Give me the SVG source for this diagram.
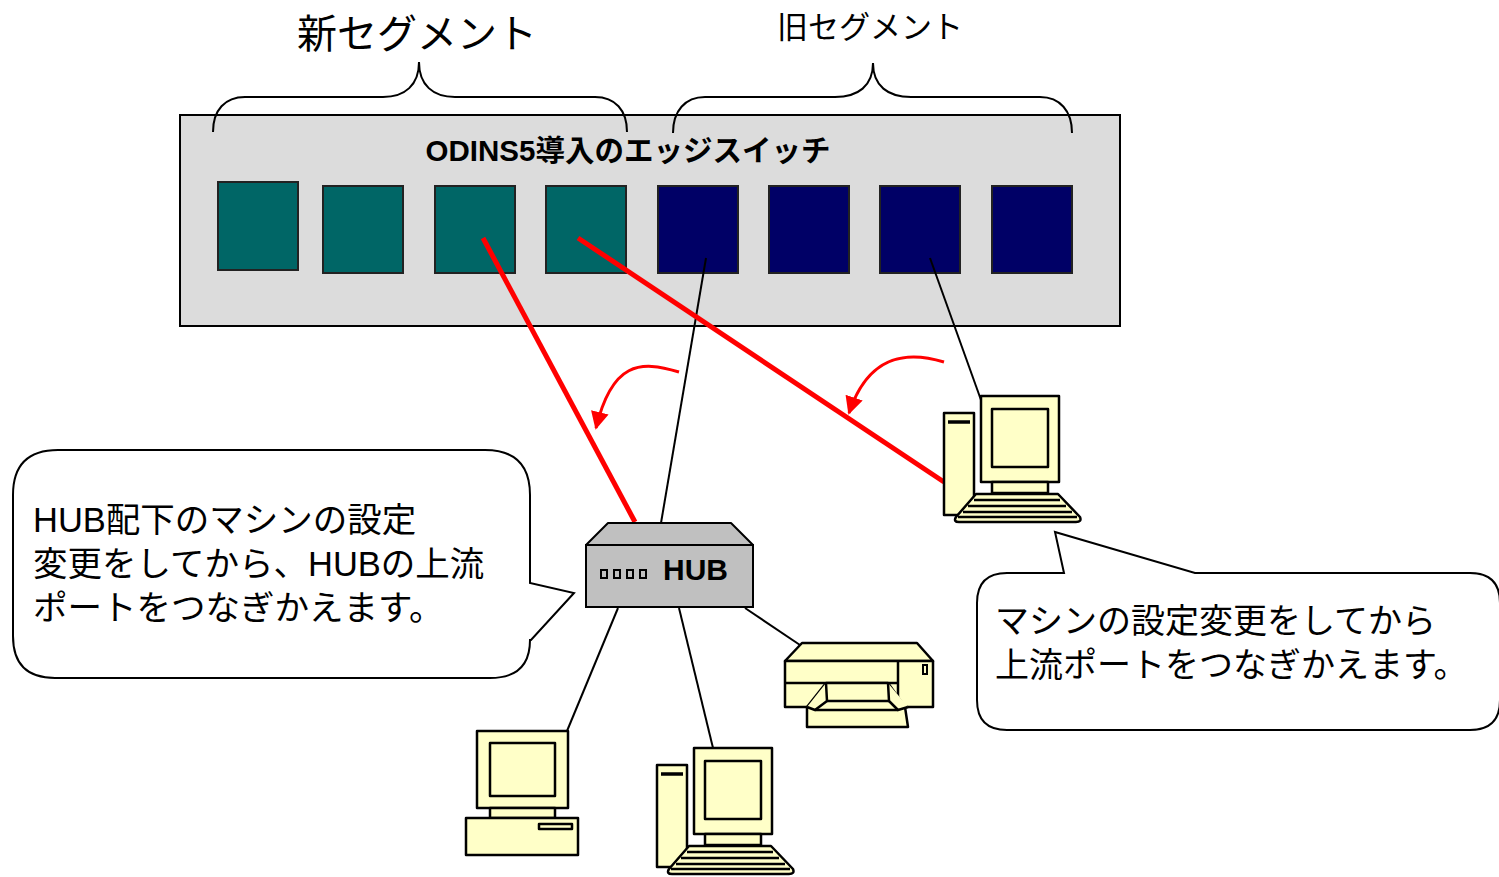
<svg xmlns="http://www.w3.org/2000/svg" width="1499" height="877" viewBox="0 0 1499 877">
  <style>
    .txt { font-family: "Liberation Sans", "Noto Sans CJK JP", sans-serif; fill: #000; }
    .bold { font-weight: bold; }
    .outline { stroke: #000; stroke-width: 2; }
    .beige { fill: #ffffc8; stroke: #000; stroke-width: 2.5; stroke-linejoin: round; }
    .brace { fill: none; stroke: #000; stroke-width: 2; }
    .port-new { fill: #006666; stroke: #222; stroke-width: 2; }
    .port-old { fill: #000066; stroke: #222; stroke-width: 2; }
    .wire { stroke: #000; stroke-width: 2; fill: none; }
    .redwire { stroke: #ff0000; stroke-width: 5; fill: none; }
    .redarrow { stroke: #ff0000; stroke-width: 3; fill: none; }
    .callout { fill: #fff; stroke: #000; stroke-width: 2; }
  </style>
  <defs>
    <marker id="redHead" viewBox="0 0 10 10" refX="9" refY="5" markerWidth="6" markerHeight="6" orient="auto" markerUnits="strokeWidth">
      <path d="M0,0 L10,5 L0,10 z" fill="#ff0000"/>
    </marker>
    <!-- tower + monitor + keyboard workstation, origin at tower top-left -->
    <g id="workstation">
      <rect class="beige" x="0" y="0" width="30" height="102"/>
      <line x1="4" y1="9" x2="26" y2="9" stroke="#000" stroke-width="3.5"/>
      <rect class="beige" x="37" y="-17" width="78" height="86"/>
      <rect class="beige" x="48" y="-4" width="56" height="58"/>
      <rect class="beige" x="48" y="69" width="56" height="11"/>
      <path class="beige" d="M32,81 L114,81 L136,104 Q138,109 132,109 L15,109 Q9,109 12,104 Z"/>
      <path d="M30,87 L116,87 M24,93 L122,93 M19,99 L128,99 M14,104 L133,104" stroke="#000" stroke-width="2.5"/>
    </g>
  </defs>

  <!-- edge switch -->
  <g id="switch">
    <rect x="180" y="115" width="940" height="211" fill="#dcdcdc" class="outline"/>
    <text class="txt bold" x="628" y="161" font-size="29.5" text-anchor="middle">ODINS5導入のエッジスイッチ</text>
    <rect class="port-new" x="218" y="182" width="80" height="88"/>
    <rect class="port-new" x="323" y="186" width="80" height="87"/>
    <rect class="port-new" x="435" y="186" width="80" height="87"/>
    <rect class="port-new" x="546" y="186" width="80" height="87"/>
    <rect class="port-old" x="658" y="186" width="80" height="87"/>
    <rect class="port-old" x="769" y="186" width="80" height="87"/>
    <rect class="port-old" x="880" y="186" width="80" height="87"/>
    <rect class="port-old" x="992" y="186" width="80" height="87"/>
  </g>

  <!-- segment labels and braces -->
  <g id="label-new">
    <text class="txt" x="417" y="48" font-size="40" text-anchor="middle">新セグメント</text>
    <path class="brace" d="M213,132 C213,110 225,97 245,97 L383,97 C405,97 419,85 419,62 C419,85 433,97 455,97 L595,97 C615,97 627,110 627,132"/>
  </g>
  <g id="label-old">
    <text class="txt" x="870" y="38" font-size="31" text-anchor="middle">旧セグメント</text>
    <path class="brace" d="M673,133 C673,111 685,97 705,97 L835,97 C858,97 873,86 873,63 C873,86 888,97 911,97 L1040,97 C1060,97 1072,111 1072,133"/>
  </g>

  <!-- connectors -->
  <g id="connectors">
    <line class="wire" x1="706" y1="258" x2="661" y2="523"/>
    <line class="wire" x1="930" y1="258" x2="981" y2="400"/>
    <line class="wire" x1="618" y1="608" x2="567" y2="731"/>
    <line class="wire" x1="679" y1="608" x2="713" y2="748"/>
    <line class="wire" x1="745" y1="608" x2="800" y2="645"/>
    <line class="redwire" x1="483" y1="238" x2="635" y2="522"/>
    <line class="redwire" x1="578" y1="238" x2="944" y2="482"/>
    <path class="redarrow" d="M679,372 C640,360 612,362 596,428" marker-end="url(#redHead)"/>
    <path class="redarrow" d="M944,362 C905,350 868,356 849,413" marker-end="url(#redHead)"/>
  </g>

  <!-- hub -->
  <g id="hub">
    <path d="M586,545 L608,523 L731,523 L753,545 Z" fill="#c0c0c0" class="outline" stroke-linejoin="round"/>
    <rect x="586" y="545" width="167" height="62" fill="#c0c0c0" class="outline"/>
    <g fill="none" stroke="#000" stroke-width="2">
      <rect x="601" y="570" width="6" height="8"/>
      <rect x="614" y="570" width="6" height="8"/>
      <rect x="627" y="570" width="6" height="8"/>
      <rect x="640" y="570" width="6" height="8"/>
    </g>
    <text class="txt bold" x="663" y="580" font-size="30">HUB</text>
  </g>

  <!-- machine whose settings change, still on the old segment -->
  <g id="pc-right">
    <use href="#workstation" x="944" y="413"/>
  </g>

  <!-- desktop PC under the hub -->
  <g id="pc-left">
    <rect class="beige" x="477" y="731" width="91" height="77"/>
    <rect class="beige" x="490" y="743" width="65" height="53"/>
    <rect class="beige" x="490" y="808" width="65" height="10"/>
    <rect class="beige" x="466" y="818" width="112" height="37"/>
    <rect class="beige" x="539" y="824" width="33" height="5"/>
  </g>

  <!-- workstation under the hub -->
  <g id="pc-bottom">
    <use href="#workstation" x="657" y="765"/>
  </g>

  <!-- printer under the hub -->
  <g id="printer">
    <path class="beige" d="M802,643 L917,643 L933,661 L785,661 Z"/>
    <rect class="beige" x="785" y="661" width="148" height="46"/>
    <line x1="785" y1="683" x2="898" y2="683" stroke="#000" stroke-width="2.5"/>
    <line x1="898" y1="661" x2="898" y2="707" stroke="#000" stroke-width="2.5"/>
    <rect x="923" y="665" width="4" height="9" fill="#ffffc8" stroke="#000" stroke-width="2"/>
    <path class="beige" d="M826,683 L888,683 L905,707 L908,727 L807,727 L807,707 Z"/>
    <path class="beige" d="M826,683 L827,701 L815,710 L807,707 M888,683 L889,701 L898,710 L908,707" fill="none"/>
    <path d="M815,710 L898,710 M827,701 L889,701" stroke="#000" stroke-width="2.5" fill="none"/>
  </g>

  <!-- callouts -->
  <g id="callout-hub">
    <path class="callout" d="M58,450 L485,450 Q530,450 530,495 L530,583 L574,593 L531,640 L530,640 Q530,678 490,678 L55,678 Q13,678 13,636 L13,495 Q13,450 58,450 Z"/>
    <text class="txt" font-size="34.5">
      <tspan x="33" y="532">HUB配下のマシンの設定</tspan>
      <tspan x="33" y="576">変更をしてから、HUBの上流</tspan>
      <tspan x="33" y="620">ポートをつなぎかえます。</tspan>
    </text>
  </g>
  <g id="callout-pc">
    <path class="callout" d="M1007,573 L1064,573 L1055,532 L1195,573 L1470,573 Q1500,573 1500,603 L1500,700 Q1500,730 1470,730 L1007,730 Q977,730 977,700 L977,603 Q977,573 1007,573 Z"/>
    <text class="txt" font-size="34">
      <tspan x="995" y="633">マシンの設定変更をしてから</tspan>
      <tspan x="995" y="677">上流ポートをつなぎかえます。</tspan>
    </text>
  </g>
</svg>
